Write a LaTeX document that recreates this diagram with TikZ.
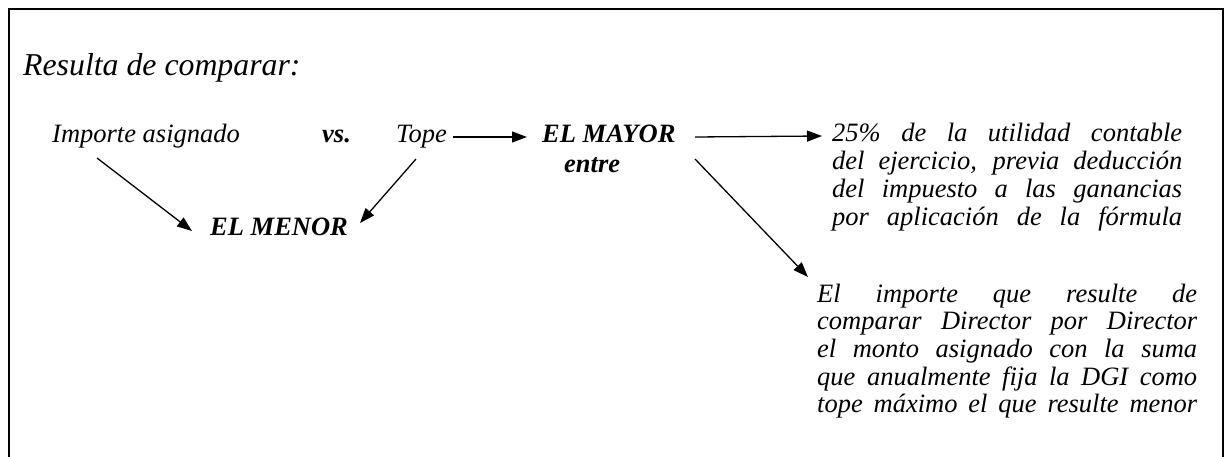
\documentclass[tikz,border=0pt]{standalone}
\usepackage{fontspec}
\setmainfont{Liberation Serif}
\usetikzlibrary{arrows.meta}
\begin{document}
\begin{tikzpicture}[x=1pt,y=-1pt,
  txt/.style={inner sep=0pt, anchor=base west, font=\itshape\fontsize{26.5}{27.7}\selectfont},
  bi/.style={txt, font=\bfseries\itshape\fontsize{26.5}{27.7}\selectfont},
  ttl/.style={txt, font=\itshape\fontsize{31.8}{34}\selectfont},
  arr/.style={line width=1.3pt, -{Triangle[length=15pt,width=11pt]}},
  frame/.style={line width=2pt}]
\useasboundingbox (0,0) rectangle (1231,457);
\draw[frame] (9,457) -- (9,9) -- (1223,9) -- (1223,457);
\node[ttl] (title) at (23,76) {Resulta de comparar:};
\node[txt] (imp) at (52,143) {Importe asignado};
\node[bi] (vs) at (322,143) {vs.};
\node[txt] (tope) at (396,143) {Tope};
\node[bi] (mayor) at (542,143) {EL MAYOR};
\node[bi] (entre) at (564,173) {entre};
\node[bi] (menor) at (210,236) {EL MENOR};
\node[txt] (b1) at (832,142) {\parbox[t]{350pt}{%
\makebox[350pt][s]{25\% de la utilidad contable}\\
\makebox[350pt][s]{del ejercicio, previa deducción}\\
\makebox[350pt][s]{del impuesto a las ganancias}\\
\makebox[350pt][s]{por aplicación de la fórmula}}};
\node[txt] (b2) at (817,302) {\parbox[t]{380pt}{%
\makebox[380pt][s]{El importe que resulte de}\\
\makebox[380pt][s]{comparar Director por Director}\\
\makebox[380pt][s]{el monto asignado con la suma}\\
\makebox[380pt][s]{que anualmente fija la DGI como}\\
\makebox[380pt][s]{tope máximo el que resulte menor}}};
\draw[arr] ([shift={(45,15)}]imp.base west) -- ([shift={(-18,-5)}]menor.base west);
\draw[arr] ([shift={(20,16)}]tope.base west) -- ([shift={(150,-13)}]menor.base west);
\draw[arr] ([shift={(57,-6)}]tope.base west) -- ([shift={(-15,-6)}]mayor.base west);
\draw[arr] ([shift={(153,-6)}]mayor.base west) -- ([shift={(-10,-6)}]b1.base west);
\draw[arr] ([shift={(153,16)}]mayor.base west) -- ([shift={(-9,-25)}]b2.base west);
\end{tikzpicture}
\end{document}
